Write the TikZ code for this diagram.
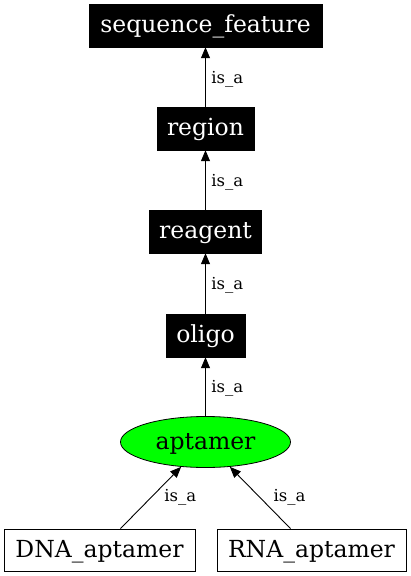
\documentclass[tikz,border=0pt]{standalone}
\usepackage{fontspec}
\setmainfont{DejaVu Serif}
\usetikzlibrary{arrows.meta,shapes.geometric}
\definecolor{aptgreen}{RGB}{0,255,0}
\begin{document}
\begin{tikzpicture}[x=1pt,y=-1pt,
  mainfont/.style={font=\fontsize{23.5}{28}\selectfont,text height=17.5pt,text depth=3.5pt},
  blackbox/.style={mainfont,rectangle,fill=black,draw=black,text=white,minimum height=43pt,inner sep=0pt},
  whitebox/.style={mainfont,rectangle,fill=white,draw=black,line width=0.8pt,minimum height=42pt,inner sep=0pt},
  isa/.style={-{Triangle[length=11pt,width=9pt]},line width=0.9pt},
  lbl/.style={font=\fontsize{16.5}{20}\selectfont,inner sep=0pt,anchor=west}]
\useasboundingbox (0,0) rectangle (410,576);
\node[blackbox,minimum width=233pt] (sf) at (205.5,25.5) {sequence\_feature};
\node[blackbox,minimum width=97pt] (region) at (205.5,128.5) {region};
\node[blackbox,minimum width=112pt] (reagent) at (205.5,231.5) {reagent};
\node[blackbox,minimum width=79pt] (oligo) at (205.5,335.5) {oligo};
\node[mainfont,ellipse,fill=aptgreen,draw=black,line width=0.8pt,minimum width=170pt,minimum height=51pt,inner sep=0pt] (apt) at (205.5,442) {aptamer};
\node[whitebox,minimum width=191pt] (dna) at (99.5,550) {DNA\_aptamer};
\node[whitebox,minimum width=189pt] (rna) at (311.5,550) {RNA\_aptamer};
\draw[isa] (region) -- node[lbl,xshift=5.5pt,yshift=-2pt] {is\_a} (sf);
\draw[isa] (reagent) -- node[lbl,xshift=5.5pt,yshift=-2pt] {is\_a} (region);
\draw[isa] (oligo) -- node[lbl,xshift=5.5pt,yshift=-2pt] {is\_a} (reagent);
\draw[isa] (apt) -- node[lbl,xshift=5.5pt,yshift=-2pt] {is\_a} (oligo);
\draw[isa] (dna) -- node[lbl,xshift=13pt] {is\_a} (apt);
\draw[isa] (rna) -- node[lbl,xshift=13pt] {is\_a} (apt);
\end{tikzpicture}
\end{document}
